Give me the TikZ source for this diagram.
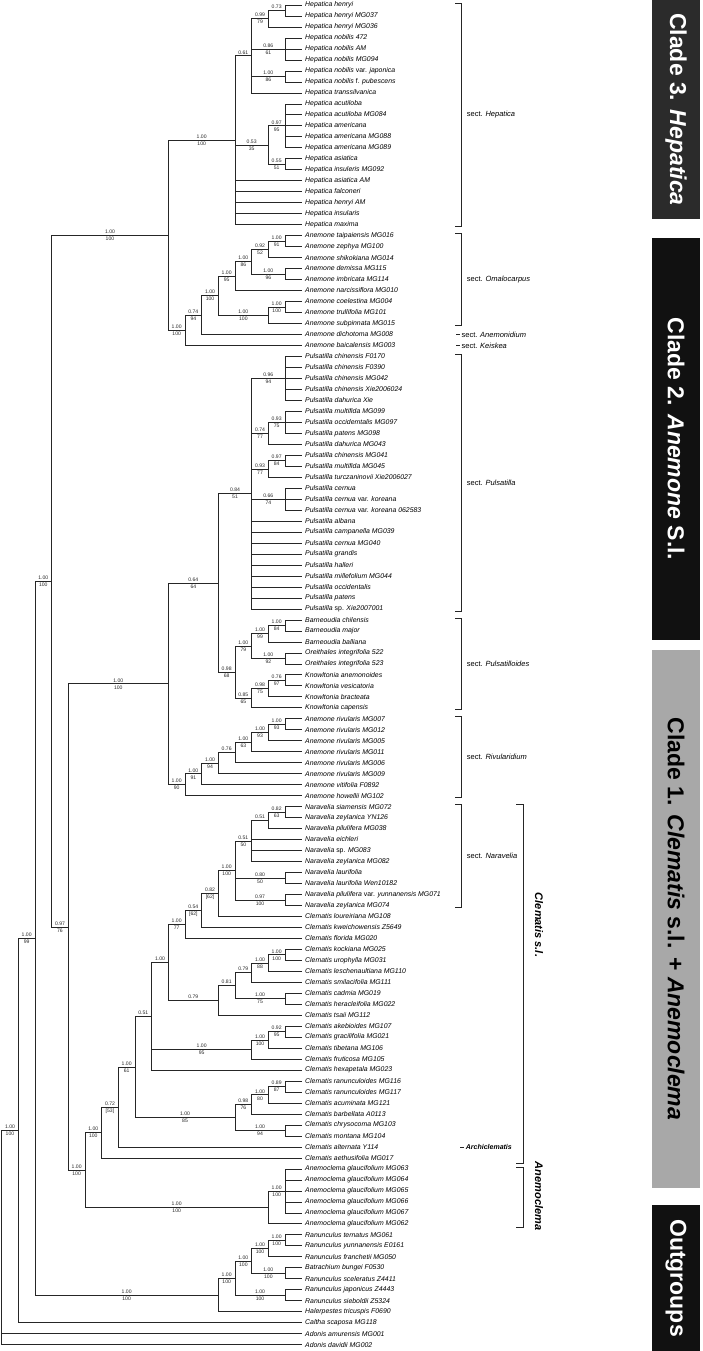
\documentclass[tikz,border=0pt]{standalone}
\usepackage{fontspec}
\setmainfont{Liberation Sans}
\usetikzlibrary{calc}
\definecolor{cladedark}{HTML}{2B2B2B}
\definecolor{cladeblack}{HTML}{111111}
\definecolor{cladegrey}{HTML}{A8A8A8}

\newcommand{\rom}[1]{\textup{#1}}
% internal node: name, height above tips, first child, last child
\newcommand{\clade}[4]{%
  \path (#3) -- (#4) coordinate[midway] (#1m);
  \coordinate (#1) at ({301.7-16.67*#2},0 |- #1m);}
% branch with posterior (above) and bootstrap (below)
\newcommand{\br}[4]{\draw[branch] (#1) |- node[pp]{#3} node[bs]{#4} (#2);}
\newcommand{\tips}[3]{\foreach \k in {#2,...,#3} {\draw[branch] (#1) |- (t\k);}}
\newcommand{\sectbar}[3]{%
  \draw[branch] ($(t#1)+(153.3,-2)$) -- ++(6.7,0) |- ($(t#2)+(153.3,2)$);
  \node[sectlab] at ($(t#1)!.5!(t#2)+(165,0)$) {sect. \textit{#3}};}

\begin{document}
\begin{tikzpicture}[x=1pt,y=-1pt,
  branch/.style={line width=0.6pt,black!85},
  taxon/.style={anchor=west,inner sep=0pt,xshift=3.3pt,font=\fontsize{6.9}{8}\selectfont\itshape},
  pp/.style={pos=0.75,above,inner sep=1.4pt,font=\fontsize{5.1}{6}\selectfont},
  bs/.style={pos=0.75,below,inner sep=1.4pt,font=\fontsize{5.1}{6}\selectfont},
  sectlab/.style={anchor=west,inner sep=0pt,font=\fontsize{7.5}{9}\selectfont},
  cladetxt/.style={rotate=-90,font=\bfseries\fontsize{23}{27}\selectfont},
  grouplab/.style={rotate=-90,font=\bfseries\itshape\fontsize{11}{13}\selectfont}]
\useasboundingbox (0,0) rectangle (702,1351);

% tips
\foreach \name [count=\i] in {Hepatica henryi, Hepatica henryi MG037, Hepatica henryi MG036,
  Hepatica nobilis 472, Hepatica nobilis AM, Hepatica nobilis MG094,
  Hepatica nobilis \rom{var.} japonica, Hepatica nobilis \rom{f.} pubescens,
  Hepatica transsilvanica, Hepatica acutiloba, Hepatica acutiloba MG084,
  Hepatica americana, Hepatica americana MG088, Hepatica americana MG089,
  Hepatica asiatica, Hepatica insuleris MG092, Hepatica asiatica AM,
  Hepatica falconeri, Hepatica henryi AM, Hepatica insularis, Hepatica maxima,
  Anemone taipaiensis MG016, Anemone zephya MG100, Anemone shikokiana MG014,
  Anemone demissa MG115, Anemone imbricata MG114, Anemone narcissiflora MG010,
  Anemone coelestina MG004, Anemone trullifolia MG101, Anemone subpinnata MG015,
  Anemone dichotoma MG008, Anemone baicalensis MG003,
  Pulsatilla chinensis F0170, Pulsatilla chinensis F0390, Pulsatilla chinensis MG042,
  Pulsatilla chinensis Xie2006024, Pulsatilla dahurica Xie, Pulsatilla multifida MG099,
  Pulsatilla occidemtalis MG097, Pulsatilla patens MG098, Pulsatilla dahurica MG043,
  Pulsatilla chinensis MG041, Pulsatilla multifida MG045, Pulsatilla turczaninovii Xie2006027,
  Pulsatilla cernua, Pulsatilla cernua \rom{var.} koreana, Pulsatilla cernua \rom{var.} koreana 062583,
  Pulsatilla albana, Pulsatilla campanella MG039, Pulsatilla cernua MG040,
  Pulsatilla grandis, Pulsatilla halleri, Pulsatilla millefolium MG044,
  Pulsatilla occidentalis, Pulsatilla patens, Pulsatilla \rom{sp.} Xie2007001,
  Barneoudia chilensis, Barneoudia major, Barneoudia balliana,
  Oreithales integrifolia 522, Oreithales integrifolia 523,
  Knowltonia anemonoides, Knowltonia vesicatoria, Knowltonia bracteata, Knowltonia capensis,
  Anemone rivularis MG007, Anemone rivularis MG012, Anemone rivularis MG005,
  Anemone rivularis MG011, Anemone rivularis MG006, Anemone rivularis MG009,
  Anemone vitifolia F0892, Anemone howellii MG102,
  Naravelia siamensis MG072, Naravelia zeylanica YN126, Naravelia pilulifera MG038,
  Naravelia eichleri, Naravelia \rom{sp.} MG083, Naravelia zeylanica MG082,
  Naravelia laurifolia, Naravelia laurifolia Wen10182,
  Naravelia pilulifera \rom{var.} yunnanensis MG071, Naravelia zeylanica MG074,
  Clematis loureiriana MG108, Clematis kweichowensis Z5649, Clematis florida MG020,
  Clematis kockiana MG025, Clematis urophylla MG031, Clematis leschenaultiana MG110,
  Clematis smilacifolia MG111, Clematis cadmia MG019, Clematis heracleifolia MG022,
  Clematis tsaii MG112, Clematis akebioides MG107, Clematis gracilifolia MG021,
  Clematis tibetana MG106, Clematis fruticosa MG105, Clematis hexapetala MG023,
  Clematis ranunculoides MG116, Clematis ranunculoides MG117, Clematis acuminata MG121,
  Clematis barbellata A0113, Clematis chrysocoma MG103, Clematis montana MG104,
  Clematis alternata Y114, Clematis aethusifolia MG017,
  Anemoclema glaucifolium MG063, Anemoclema glaucifolium MG064, Anemoclema glaucifolium MG065,
  Anemoclema glaucifolium MG066, Anemoclema glaucifolium MG067, Anemoclema glaucifolium MG062,
  Ranunculus ternatus MG061, Ranunculus yunnanensis E0161, Ranunculus franchetii MG050,
  Batrachium bungei F0530, Ranunculus sceleratus Z4411, Ranunculus japonicus Z4443,
  Ranunculus sieboldii Z5324, Halerpestes tricuspis F0690, Caltha scaposa MG118,
  Adonis amurensis MG001, Adonis davidii MG002} {
  \coordinate (t\i) at (301.7,{5+(\i-1)*10.98});
  \node[taxon] (n\i) at (t\i) {\name};
}

% Clade 3
\clade{hA}{1}{t1}{t2} \clade{hB}{2}{hA}{t3} \clade{hC}{1}{t4}{t6} \clade{hD}{1}{t7}{t8}
\clade{hE}{3}{hB}{t9} \clade{hF}{1}{t10}{t14} \clade{hG}{1}{t15}{t16} \clade{hH}{2}{hF}{hG}
\clade{hep}{4}{hE}{t21}
\clade{aA}{1}{t22}{t23} \clade{aB}{2}{aA}{t24} \clade{aC}{1}{t25}{t26} \clade{aD}{3}{aB}{aC}
\clade{aE}{4}{aD}{t27} \clade{aF}{1}{t28}{t29} \clade{aG}{2}{aF}{t30} \clade{aH}{5}{aE}{aG}
\clade{aI}{6}{aH}{t31} \clade{ane}{7}{aI}{t32} \clade{c3}{8}{hep}{ane}
\tips{hA}{1}{2} \br{hB}{hA}{0.73}{} \tips{hB}{3}{3} \tips{hC}{4}{6} \tips{hD}{7}{8}
\br{hE}{hB}{0.99}{79} \br{hE}{hC}{0.86}{61} \br{hE}{hD}{1.00}{86} \tips{hE}{9}{9}
\tips{hF}{10}{14} \tips{hG}{15}{16} \br{hH}{hF}{0.97}{95} \br{hH}{hG}{0.55}{51}
\br{hep}{hE}{0.61}{} \br{hep}{hH}{0.53}{35} \tips{hep}{17}{21}
\tips{aA}{22}{23} \br{aB}{aA}{1.00}{91} \tips{aB}{24}{24} \tips{aC}{25}{26}
\br{aD}{aB}{0.92}{52} \br{aD}{aC}{1.00}{96} \br{aE}{aD}{1.00}{86} \tips{aE}{27}{27}
\tips{aF}{28}{29} \br{aG}{aF}{1.00}{100} \tips{aG}{30}{30}
\br{aH}{aE}{1.00}{95} \br{aH}{aG}{1.00}{100} \br{aI}{aH}{1.00}{100} \tips{aI}{31}{31}
\br{ane}{aI}{0.74}{94} \tips{ane}{32}{32}
\br{c3}{hep}{1.00}{100} \br{c3}{ane}{1.00}{100}

% Clade 2
\clade{pA}{1}{t33}{t37} \clade{pB}{1}{t38}{t40} \clade{pC}{2}{pB}{t41} \clade{pD}{1}{t42}{t43}
\clade{pE}{2}{pD}{t44} \clade{pF}{1}{t45}{t47} \clade{pul}{3}{pA}{t56}
\clade{bA}{1}{t57}{t58} \clade{bB}{2}{bA}{t59} \clade{bC}{1}{t60}{t61} \clade{bD}{3}{bB}{bC}
\clade{kA}{1}{t62}{t63} \clade{kB}{2}{kA}{t64} \clade{kC}{3}{kB}{t65} \clade{psd}{4}{bD}{kC}
\clade{pq}{5}{pul}{psd}
\clade{rA}{1}{t66}{t67} \clade{rB}{2}{rA}{t68} \clade{rC}{3}{rB}{t69} \clade{rD}{4}{rC}{t70}
\clade{rE}{5}{rD}{t71} \clade{rF}{6}{rE}{t72} \clade{riv}{7}{rF}{t73} \clade{c2}{8}{pq}{riv}
\tips{pA}{33}{37} \tips{pB}{38}{40} \br{pC}{pB}{0.93}{75} \tips{pC}{41}{41}
\tips{pD}{42}{43} \br{pE}{pD}{0.97}{84} \tips{pE}{44}{44} \tips{pF}{45}{47}
\br{pul}{pA}{0.96}{94} \br{pul}{pC}{0.74}{77} \br{pul}{pE}{0.93}{77} \br{pul}{pF}{0.66}{74}
\tips{pul}{48}{56}
\tips{bA}{57}{58} \br{bB}{bA}{1.00}{84} \tips{bB}{59}{59} \tips{bC}{60}{61}
\br{bD}{bB}{1.00}{99} \br{bD}{bC}{1.00}{92}
\tips{kA}{62}{63} \br{kB}{kA}{0.76}{97} \tips{kB}{64}{64} \br{kC}{kB}{0.98}{75} \tips{kC}{65}{65}
\br{psd}{bD}{1.00}{79} \br{psd}{kC}{0.85}{65}
\br{pq}{pul}{0.84}{51} \br{pq}{psd}{0.98}{68}
\tips{rA}{66}{67} \br{rB}{rA}{1.00}{93} \tips{rB}{68}{68} \br{rC}{rB}{1.00}{93} \tips{rC}{69}{69}
\br{rD}{rC}{1.00}{63} \tips{rD}{70}{70} \br{rE}{rD}{0.76}{} \tips{rE}{71}{71}
\br{rF}{rE}{1.00}{94} \tips{rF}{72}{72} \br{riv}{rF}{1.00}{91} \tips{riv}{73}{73}
\br{c2}{pq}{0.64}{64} \br{c2}{riv}{1.00}{90}

% Clade 1
\clade{nA}{1}{t74}{t75} \clade{nB}{2}{nA}{t76} \clade{nC}{3}{nB}{t79} \clade{nD}{1}{t80}{t81}
\clade{nE}{1}{t82}{t83} \clade{nar}{4}{nC}{nE} \clade{cA}{5}{nar}{t84} \clade{cB}{6}{cA}{t85}
\clade{cC}{7}{cB}{t86} \clade{cD}{1}{t87}{t88} \clade{cE}{2}{cD}{t89} \clade{cF}{3}{cE}{t90}
\clade{cG}{1}{t91}{t92} \clade{cH}{4}{cF}{cG} \clade{cI}{5}{cH}{t93} \clade{cJ}{8}{cC}{cI}
\clade{cK}{1}{t94}{t95} \clade{cL}{2}{cK}{t96} \clade{cM}{3}{cL}{t97} \clade{cN}{9}{cJ}{t98}
\clade{cO}{1}{t99}{t100} \clade{cP}{2}{cO}{t101} \clade{cQ}{3}{cP}{t102} \clade{cR}{1}{t103}{t104}
\clade{cS}{4}{cQ}{cR} \clade{cT}{10}{cN}{cS} \clade{cU}{11}{cT}{t105} \clade{cle}{12}{cU}{t106}
\clade{emA}{1}{t107}{t111} \clade{ema}{2}{emA}{t112} \clade{c1}{13}{cle}{ema}
\tips{nA}{74}{75} \br{nB}{nA}{0.82}{63} \tips{nB}{76}{76} \br{nC}{nB}{0.51}{} \tips{nC}{77}{79}
\tips{nD}{80}{81} \tips{nE}{82}{83}
\br{nar}{nC}{0.51}{50} \br{nar}{nD}{0.80}{50} \br{nar}{nE}{0.97}{100}
\br{cA}{nar}{1.00}{100} \tips{cA}{84}{84} \br{cB}{cA}{0.82}{[62]} \tips{cB}{85}{85}
\br{cC}{cB}{0.54}{[62]} \tips{cC}{86}{86}
\tips{cD}{87}{88} \br{cE}{cD}{1.00}{100} \tips{cE}{89}{89} \br{cF}{cE}{1.00}{88} \tips{cF}{90}{90}
\tips{cG}{91}{92} \br{cH}{cF}{0.79}{} \br{cH}{cG}{1.00}{75} \br{cI}{cH}{0.81}{} \tips{cI}{93}{93}
\br{cJ}{cC}{1.00}{77} \br{cJ}{cI}{0.79}{}
\tips{cK}{94}{95} \br{cL}{cK}{0.92}{95} \tips{cL}{96}{96} \br{cM}{cL}{1.00}{100} \tips{cM}{97}{97}
\br{cN}{cJ}{1.00}{} \br{cN}{cM}{1.00}{95} \tips{cN}{98}{98}
\tips{cO}{99}{100} \br{cP}{cO}{0.89}{87} \tips{cP}{101}{101} \br{cQ}{cP}{1.00}{80} \tips{cQ}{102}{102}
\tips{cR}{103}{104} \br{cS}{cQ}{0.98}{76} \br{cS}{cR}{1.00}{94}
\br{cT}{cN}{0.51}{} \br{cT}{cS}{1.00}{85} \br{cU}{cT}{1.00}{61} \tips{cU}{105}{105}
\br{cle}{cU}{0.72}{[53]} \tips{cle}{106}{106}
\tips{emA}{107}{111} \br{ema}{emA}{1.00}{100} \tips{ema}{112}{112}
\br{c1}{cle}{1.00}{100} \br{c1}{ema}{1.00}{100}

% backbone and outgroups
\clade{c12}{14}{c2}{c1} \clade{c123}{15}{c3}{c12}
\clade{oA}{1}{t113}{t114} \clade{oB}{2}{oA}{t115} \clade{oC}{1}{t116}{t117} \clade{oD}{3}{oB}{oC}
\clade{oE}{1}{t118}{t119} \clade{oF}{4}{oD}{oE} \clade{ran}{5}{oF}{t120}
\clade{iA}{16}{c123}{ran} \clade{iB}{17}{iA}{t121} \clade{root}{18}{iB}{t123}
\br{c12}{c2}{1.00}{100} \br{c12}{c1}{1.00}{100}
\br{c123}{c3}{1.00}{100} \br{c123}{c12}{0.97}{76}
\tips{oA}{113}{114} \br{oB}{oA}{1.00}{100} \tips{oB}{115}{115} \tips{oC}{116}{117}
\br{oD}{oB}{1.00}{100} \br{oD}{oC}{1.00}{100} \tips{oE}{118}{119}
\br{oF}{oD}{1.00}{100} \br{oF}{oE}{1.00}{100} \br{ran}{oF}{1.00}{100} \tips{ran}{120}{120}
\br{iA}{c123}{1.00}{100} \br{iA}{ran}{1.00}{100}
\br{iB}{iA}{1.00}{99} \tips{iB}{121}{121}
\br{root}{iB}{1.00}{100} \tips{root}{122}{123}

% sections
\sectbar{1}{21}{Hepatica}
\sectbar{22}{30}{Omalocarpus}
\draw[branch] ($(t31)+(154.3,0)$) -- ++(4,0);
\node[sectlab] at ($(t31)+(159.7,0)$) {sect. \textit{Anemonidium}};
\draw[branch] ($(t32)+(154.3,0)$) -- ++(4,0);
\node[sectlab] at ($(t32)+(159.7,0)$) {sect. \textit{Keiskea}};
\sectbar{33}{56}{Pulsatilla}
\sectbar{57}{65}{Pulsatilloides}
\sectbar{66}{73}{Rivularidium}
\sectbar{74}{83}{Naravelia}
\draw[branch] ($(t105)+(158.3,0)$) -- ++(3.5,0);
\node[sectlab,font=\bfseries\itshape\fontsize{7}{8}\selectfont] at ($(t105)+(164,0)$) {Archiclematis};

% Clematis s.l. / Anemoclema
\draw[branch] ($(t74)+(214.3,-2.5)$) -- ++(7,0) |- ($(t106)+(214.3,5.5)$);
\draw[branch] ($(t107)+(214.3,-1.5)$) -- ++(7,0) |- ($(t112)+(214.3,3.5)$);
\node[grouplab] at (539,925) {Clematis s.l.};
\node[grouplab] at (539,1196) {Anemoclema};

% clade bars
\fill[cladedark] (652,0) rectangle (700,219);
\node[cladetxt,white] at (676,109.5) {Clade 3. \textit{Hepatica}};
\fill[cladeblack] (652,238) rectangle (700,640);
\node[cladetxt,white] at (676,439) {Clade 2. \textit{Anemone} S.l.};
\fill[cladegrey] (652,650) rectangle (700,1188);
\node[cladetxt] at (676,919) {Clade 1. \textit{Clematis} s.l. + \textit{Anemoclema}};
\fill[cladeblack] (652,1205) rectangle (700,1351);
\node[cladetxt,white] at (676,1278) {Outgroups};
\end{tikzpicture}
\end{document}
